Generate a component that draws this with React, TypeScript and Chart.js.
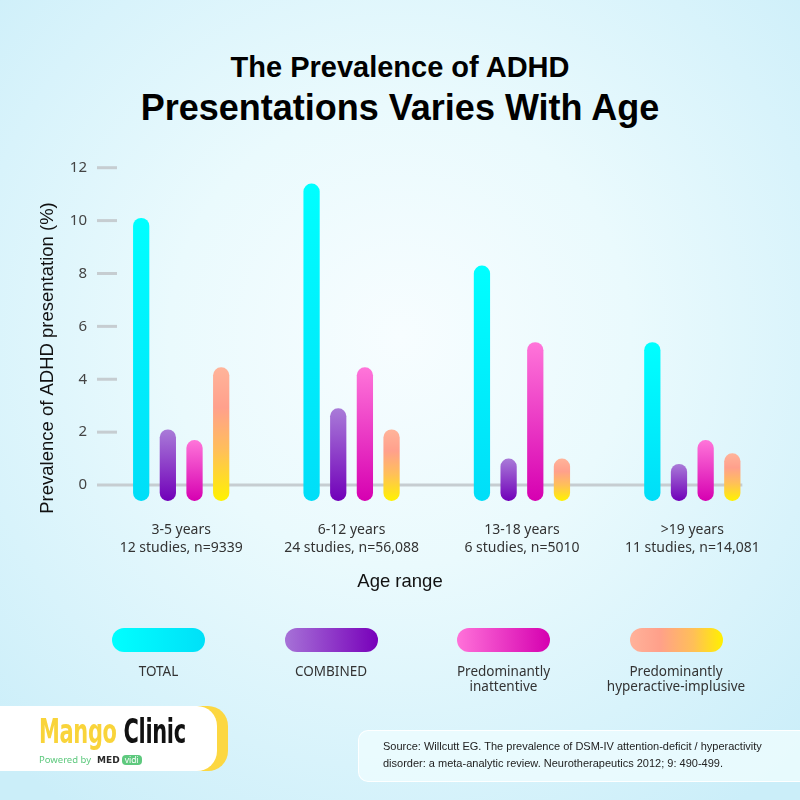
import React, { useEffect, useRef } from 'react';
import { Chart, registerables } from 'chart.js';

Chart.register(...registerables);

// ---------- data ----------
const AGE_GROUPS = ['3-5 years', '6-12 years', '13-18 years', '>19 years'];
const STUDY_INFO = ['12 studies, n=9339', '24 studies, n=56,088', '6 studies, n=5010', '11 studies, n=14,081'];
const SERIES_NAMES = ['TOTAL', 'COMBINED', 'Predominantly inattentive', 'Predominantly hyperactive-implusive'];
const LEGEND_LINES = [['TOTAL'], ['COMBINED'], ['Predominantly', 'inattentive'], ['Predominantly', 'hyperactive-implusive']];
const TOTAL = [10.1, 11.4, 8.3, 5.4];
const COMBINED = [2.1, 2.9, 1.0, 0.8];
const INATTENTIVE = [1.7, 4.45, 5.4, 1.7];
const HYPERACTIVE = [4.45, 2.1, 1.0, 1.2];
const Y_TICKS = [0, 2, 4, 6, 8, 10, 12];
const Y_MAX = 12;
const BAR_BASE = -0.6;

// ---------- styles ----------
type Stop = [number, string];
const STOPS: Stop[][] = [
  [[0, '#00ffff'], [1, '#00def8']],
  [[0, '#a97bd8'], [1, '#7100b9']],
  [[0, '#ff75d9'], [1, '#d600b1']],
  [[0, '#ffb49a'], [0.3, '#ffa08c'], [0.62, '#ffbf5a'], [1, '#fff200']],
];

function gradientFill(stops: Stop[]) {
  return (ctx: any) => {
    const chart = ctx.chart;
    const y = chart.scales && chart.scales.y;
    if (ctx.type !== 'data' || !y || !chart.chartArea || typeof ctx.raw !== 'number') {
      return stops[stops.length - 1][1];
    }
    const top = y.getPixelForValue(ctx.raw);
    const bottom = y.getPixelForValue(BAR_BASE);
    if (!isFinite(top) || !isFinite(bottom) || top === bottom) return stops[0][1];
    const g = chart.ctx.createLinearGradient(0, top, 0, bottom);
    stops.forEach(([o, c]) => g.addColorStop(o, c));
    return g;
  };
}

const decorPlugin = {
  id: 'decor',
  beforeDatasetsDraw(chart: any) {
    const { ctx, scales } = chart;
    const x = scales.x;
    const y = scales.y;
    ctx.save();
    ctx.strokeStyle = '#c6cdd1';
    ctx.lineWidth = 3;
    Y_TICKS.forEach((v) => {
      const py = y.getPixelForValue(v);
      ctx.beginPath();
      ctx.moveTo(x.left + 1, py);
      const end = v === 0 ? x.getPixelForValue(AGE_GROUPS.length - 1) + 50 : x.left + 21;
      ctx.lineTo(end, py);
      ctx.stroke();
    });
    ctx.restore();
  },
  afterDraw(chart: any) {
    const { ctx } = chart;
    ctx.save();
    ctx.fillStyle = '#111';
    ctx.textAlign = 'center';
    ctx.textBaseline = 'middle';
    ctx.font = '18.5px "Liberation Sans", Arial, sans-serif';
    ctx.translate(48, 358);
    ctx.rotate(-Math.PI / 2);
    ctx.fillText('Prevalence of ADHD presentation (%)', 0, 0);
    ctx.restore();
    ctx.save();
    ctx.fillStyle = '#111';
    ctx.textAlign = 'center';
    ctx.textBaseline = 'middle';
    ctx.font = '18.5px "Liberation Sans", Arial, sans-serif';
    ctx.fillText('Age range', 400, 582);
    ctx.restore();
  },
};

function ChartCanvas() {
  const ref = useRef<HTMLCanvasElement | null>(null);
  useEffect(() => {
    if (!ref.current) return;
    const values = [TOTAL, COMBINED, INATTENTIVE, HYPERACTIVE];
    const chart = new Chart(ref.current, {
      type: 'bar',
      data: {
        labels: AGE_GROUPS.map((g, i) => [g, STUDY_INFO[i]]),
        datasets: values.map((d, i) => ({
          label: SERIES_NAMES[i],
          data: d,
          base: BAR_BASE,
          backgroundColor: gradientFill(STOPS[i]),
          borderWidth: 0,
          borderRadius: 8,
          borderSkipped: false,
          categoryPercentage: 0.626,
          barPercentage: 0.61,
        })),
      },
      options: {
        animation: false,
        responsive: false,
        devicePixelRatio: 1,
        layout: { padding: { top: 167.7, right: 22.5, left: 0, bottom: 0 } },
        plugins: {
          legend: { display: false },
          tooltip: { enabled: false },
          title: { display: false },
        },
        scales: {
          x: {
            grid: { display: false, drawTicks: false },
            border: { display: false },
            ticks: {
              font: { family: '"Noto Sans", sans-serif', size: 14, lineHeight: 1.22 },
              color: '#333',
              padding: 21,
              maxRotation: 0,
              autoSkip: false,
            },
            afterFit: (axis: any) => {
              axis.height = 800 - 500.9;
            },
          },
          y: {
            min: BAR_BASE,
            max: Y_MAX,
            grid: { display: false, drawTicks: false },
            border: { display: false },
            afterBuildTicks: (axis: any) => {
              axis.ticks = Y_TICKS.map((v) => ({ value: v }));
            },
            ticks: {
              font: { family: '"Noto Sans", sans-serif', size: 15 },
              color: '#444',
              padding: 9,
            },
            afterFit: (axis: any) => {
              axis.width = 96;
            },
          },
        },
      },
      plugins: [decorPlugin],
    } as any);
    return () => chart.destroy();
  }, []);
  return (
    <canvas
      ref={ref}
      width={800}
      height={800}
      style={{ position: 'absolute', left: 0, top: 0, width: 800, height: 800 }}
    />
  );
}

const LEGEND_GRADIENTS = [
  'linear-gradient(to right, #00ffff, #00e0f8)',
  'linear-gradient(to right, #a672d7, #7800ba)',
  'linear-gradient(to right, #ff72d9, #d500b0)',
  'linear-gradient(to right, #ffb29a 0%, #ffa08a 32%, #ffbf58 68%, #fff000 100%)',
];

export default function App() {
  return (
    <div
      style={{
        position: 'absolute',
        left: 0,
        top: 0,
        width: 800,
        height: 800,
        overflow: 'hidden',
        background:
          'radial-gradient(ellipse 72% 72% at 50% 42%, #f7fdff 0%, #eafafd 40%, #d8f3fb 75%, #cbeef9 100%)',
        fontFamily: '"Noto Sans", sans-serif',
      }}
    >
      {/* Title */}
      <div
        style={{
          position: 'absolute',
          top: 50,
          left: 0,
          width: 800,
          textAlign: 'center',
          fontFamily: '"Liberation Sans", Arial, sans-serif',
          fontWeight: 700,
          fontSize: 29,
          lineHeight: '34px',
          color: '#000',
        }}
      >
        The Prevalence of ADHD
      </div>
      <div
        style={{
          position: 'absolute',
          top: 86.5,
          left: 0,
          width: 800,
          textAlign: 'center',
          fontFamily: '"Liberation Sans", Arial, sans-serif',
          fontWeight: 700,
          fontSize: 36,
          lineHeight: '42px',
          color: '#000',
        }}
      >
        Presentations Varies With Age
      </div>

      <ChartCanvas />

      {/* Legend */}
      {SERIES_NAMES.map((name, i) => {
        const cx = 158.5 + 172.5 * i;
        return (
          <React.Fragment key={name}>
            <div
              style={{
                position: 'absolute',
                left: cx - 46.5,
                top: 628,
                width: 93,
                height: 24,
                borderRadius: 12,
                background: LEGEND_GRADIENTS[i],
              }}
            />
            <div
              style={{
                position: 'absolute',
                left: cx - 100,
                top: 663.5,
                width: 200,
                textAlign: 'center',
                fontSize: 13.5,
                lineHeight: '15px',
                color: '#333',
              }}
            >
              {LEGEND_LINES[i].map((l) => (
                <div key={l}>{l}</div>
              ))}
            </div>
          </React.Fragment>
        );
      })}

      {/* Logo */}
      <div
        style={{
          position: 'absolute',
          left: -30,
          top: 706,
          width: 258,
          height: 65,
          borderRadius: 20,
          background: '#fcd741',
        }}
      />
      <div
        style={{
          position: 'absolute',
          left: -30,
          top: 706,
          width: 247,
          height: 65,
          borderRadius: 20,
          background: '#ffffff',
        }}
      />
      <div
        style={{
          position: 'absolute',
          left: 39,
          top: 711,
          whiteSpace: 'nowrap',
          fontFamily: '"DejaVu Sans Condensed", "DejaVu Sans", sans-serif',
          fontWeight: 700,
          fontSize: 34,
          lineHeight: '40px',
          transform: 'scaleX(0.685)',
          transformOrigin: 'left top',
          letterSpacing: -0.5,
        }}
      >
        <span style={{ color: '#f9d43a' }}>Mango</span> <span style={{ color: '#111' }}>Clinic</span>
      </div>
      <div
        style={{
          position: 'absolute',
          left: 39,
          top: 754,
          whiteSpace: 'nowrap',
          fontSize: 9.5,
          lineHeight: '12px',
          color: '#5ec97e',
          display: 'flex',
          alignItems: 'center',
        }}
      >
        <span>Powered by</span>
        <span style={{ marginLeft: 6, fontWeight: 800, color: '#2a2a2a', fontFamily: '"DejaVu Sans", sans-serif', fontSize: 9 }}>
          MED
        </span>
        <span
          style={{
            marginLeft: 2,
            background: '#5ec97e',
            color: '#fff',
            borderRadius: 4,
            padding: '0 3px',
            fontSize: 8.5,
            lineHeight: '10px',
          }}
        >
          vidi
        </span>
      </div>

      {/* Source box */}
      <div
        style={{
          position: 'absolute',
          left: 358,
          top: 730,
          width: 470,
          height: 52,
          borderRadius: 10,
          background: 'rgba(236, 252, 254, 0.85)',
          border: '1.5px solid rgba(255,255,255,0.95)',
          boxSizing: 'border-box',
        }}
      />
      <div
        style={{
          position: 'absolute',
          left: 383,
          top: 738,
          width: 410,
          fontFamily: '"Liberation Sans", Arial, sans-serif',
          fontSize: 11,
          lineHeight: '17px',
          color: '#222',
          whiteSpace: 'nowrap',
        }}
      >
        <div>Source: Willcutt EG. The prevalence of DSM-IV attention-deficit / hyperactivity</div>
        <div>disorder: a meta-analytic review. Neurotherapeutics 2012; 9: 490-499.</div>
      </div>
    </div>
  );
}
